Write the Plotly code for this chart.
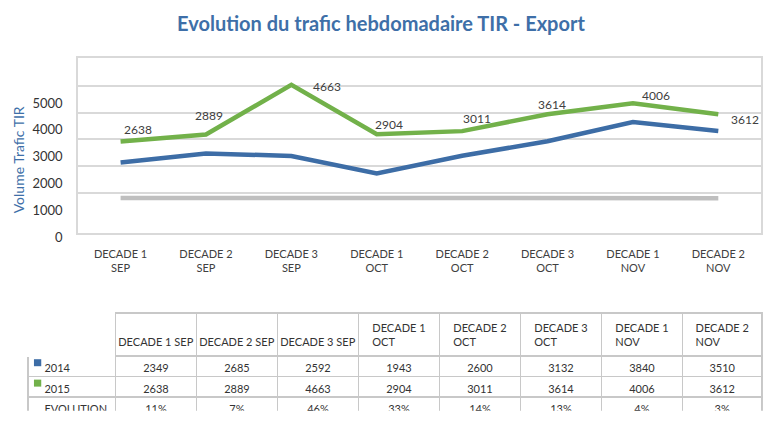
import plotly.graph_objects as go

categories = ["DECADE 1 SEP", "DECADE 2 SEP", "DECADE 3 SEP", "DECADE 1 OCT",
              "DECADE 2 OCT", "DECADE 3 OCT", "DECADE 1 NOV", "DECADE 2 NOV"]
tick_labels = ["DECADE 1<br>SEP", "DECADE 2<br>SEP", "DECADE 3<br>SEP", "DECADE 1<br>OCT",
               "DECADE 2<br>OCT", "DECADE 3<br>OCT", "DECADE 1<br>NOV", "DECADE 2<br>NOV"]
header_labels = ["\u00a0<br>DECADE 1 SEP", "\u00a0<br>DECADE 2 SEP", "\u00a0<br>DECADE 3 SEP",
                 "DECADE 1<br>OCT", "DECADE 2<br>OCT", "DECADE 3<br>OCT",
                 "DECADE 1<br>NOV", "DECADE 2<br>NOV"]
row_labels = ["2014", "2015", "EVOLUTION"]
values_2014 = [2349, 2685, 2592, 1943, 2600, 3132, 3840, 3510]
values_2015 = [2638, 2889, 4663, 2904, 3011, 3614, 4006, 3612]
evolution = [0.11, 0.07, 0.46, 0.33, 0.14, 0.13, 0.04, 0.03]
y_ticks = [0, 1000, 2000, 3000, 4000, 5000]
grid_ticks = [1500, 2500, 3500, 4500, 5500]

BLUE = "#3D6DA6"
GREEN = "#72B14A"
GRAY = "#BFBFBF"
GRID = "#D9D9D9"
TXT = "#404040"
FONT = "Lato"

W, H = 763, 423


def fx(X):
    return X / W


def fy(Y):
    return 1 - Y / H


# label offsets (px) for 2015 data labels
label_dx = [17, 3, 36, 12, 15, 4, 23, 27]
label_dy = [12, 19, -2, 10, 13, 10, 8, -5]

fig = go.Figure()

# scaffold on the primary (labelled) axis: draws nothing, carries ticks and grid
fig.add_trace(go.Scatter(x=categories, y=values_2014, mode="none", yaxis="y",
                         hoverinfo="skip", showlegend=False))
fig.add_trace(go.Scatter(x=categories, y=evolution, mode="lines", yaxis="y4",
                         line=dict(color=GRAY, width=4.5), name="EVOLUTION", showlegend=False))
fig.add_trace(go.Scatter(x=categories, y=values_2014, mode="lines", yaxis="y2",
                         line=dict(color=BLUE, width=4.5), name="2014", showlegend=False))
fig.add_trace(go.Scatter(x=categories, y=values_2015, mode="lines", yaxis="y3",
                         line=dict(color=GREEN, width=4.5), name="2015", showlegend=False))

for c, v, dx, dy in zip(categories, values_2015, label_dx, label_dy):
    fig.add_annotation(x=c, y=v, xref="x", yref="y3", text=str(v), showarrow=False,
                       xshift=dx, yshift=dy, font=dict(family=FONT, size=12, color=TXT))

# table
first_col = ["\u00a0\u00a0\u00a0" + r for r in row_labels]
cols = [first_col]
for a, b, e in zip(values_2014, values_2015, evolution):
    cols.append([str(a), str(b), f"{round(e * 100)}%"])

border = "#C8C8C8"
fig.add_trace(go.Table(
    domain=dict(x=[fx(28), 1], y=[0, fy(322)]),
    columnwidth=[88, 81.5, 81.5, 81.5, 81.5, 81.5, 81.5, 81.5, 80],
    header=dict(values=[""] + header_labels,
                line=dict(color=["white"] + [border] * 8, width=1.5),
                fill=dict(color="white"),
                align="center", height=39,
                font=dict(family=FONT, size=11, color="#333333")),
    cells=dict(values=cols,
               line=dict(color=border, width=1.5),
               fill=dict(color="white"),
               align=["left"] + ["center"] * 8, height=20.5,
               font=dict(family=FONT, size=11, color="#333333")),
))

# legend swatches in the table's first column
for col, yc in zip([BLUE, GREEN], [373.3, 394.3]):
    fig.add_shape(type="rect", xref="paper", yref="paper",
                  x0=fx(34), x1=fx(41.3), y0=fy(yc + 3.6), y1=fy(yc - 3.6),
                  fillcolor=col, line=dict(width=0))

TRANSP = "rgba(0,0,0,0)"
fig.update_layout(
    width=W, height=H,
    margin=dict(l=0, r=0, t=0, b=0),
    paper_bgcolor="white", plot_bgcolor="white",
    title=dict(text="<b>Evolution du trafic hebdomadaire TIR - Export</b>",
               x=fx(381), xanchor="center", y=fy(24), yanchor="middle",
               yref="container", xref="container",
               font=dict(family=FONT, size=20, color="#3E6FA8")),
    xaxis=dict(domain=[fx(78), fx(762)], type="category", range=[-0.5, 7.5],
               tickvals=categories, ticktext=tick_labels,
               showgrid=False, showline=True, mirror=True, linecolor=GRID, linewidth=1.5,
               ticks="outside", ticklen=10, tickcolor=TRANSP,
               tickfont=dict(family=FONT, size=11, color=TXT)),
    yaxis=dict(domain=[fy(240), fy(60)], range=[0, 6522], tickvals=y_ticks,
               showgrid=False, showline=True, mirror=True, linecolor=GRID, linewidth=1.5,
               zeroline=False, ticks="outside", ticklen=11, tickcolor=TRANSP,
               ticklabelshift=4,
               tickfont=dict(family=FONT, size=13, color="#333333"),
               minor=dict(tickmode="array", tickvals=grid_ticks, showgrid=True,
                          gridcolor=GRID, gridwidth=1.5, ticks="")),
    yaxis2=dict(domain=[fy(240), fy(60)], overlaying="y", range=[-258, 6194], visible=False),
    yaxis3=dict(domain=[fy(240), fy(60)], overlaying="y", range=[-631, 5610], visible=False),
    yaxis4=dict(domain=[fy(240), fy(60)], overlaying="y", range=[-16, 64], visible=False),
)

fig.add_annotation(text="Volume Trafic TIR", xref="paper", yref="paper",
                   x=fx(18), y=fy(164), xanchor="center", yanchor="middle",
                   textangle=-90, showarrow=False,
                   font=dict(family=FONT, size=14, color="#3E6FA8"))

fig.write_html("out.html",
               config={"displayModeBar": False},
               post_script="document.documentElement.style.overflow='hidden';"
                           "document.body.style.margin='0';"
                           "document.body.style.overflow='hidden';")
